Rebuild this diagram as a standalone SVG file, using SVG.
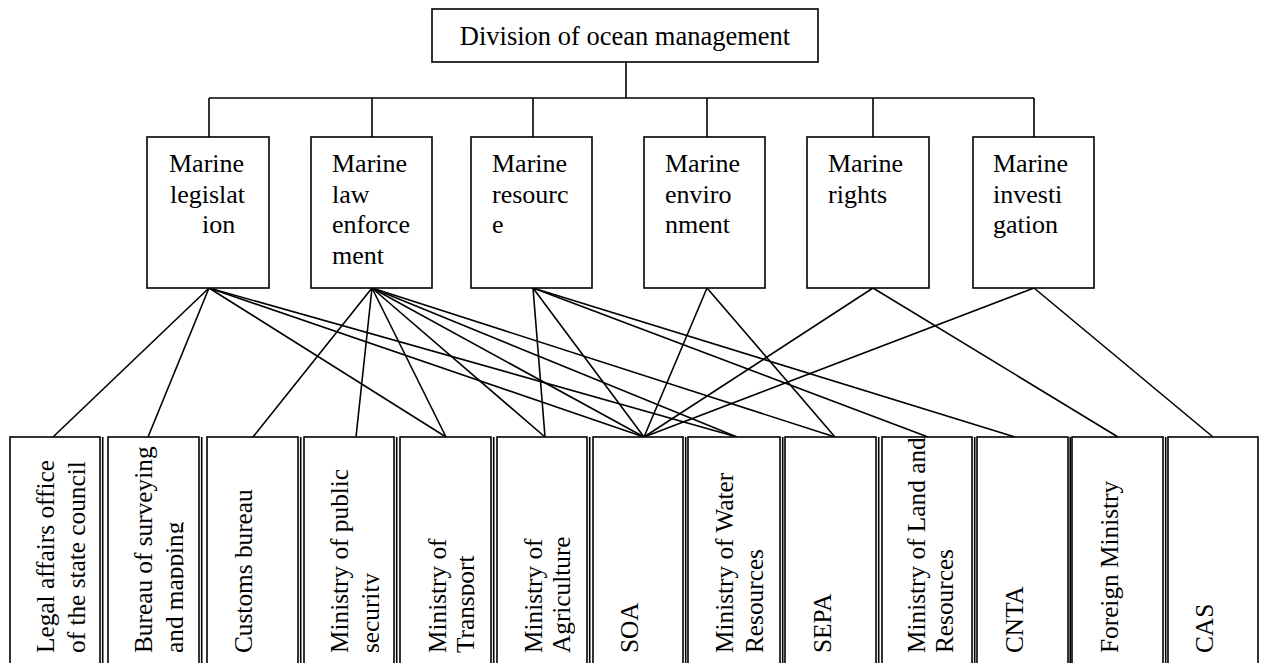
<svg xmlns="http://www.w3.org/2000/svg" width="1264" height="663" viewBox="0 0 1264 663">
<style>
  .box { fill: #fff; stroke: #000; stroke-width: 1.6; }
  .ln { stroke: #000; stroke-width: 1.6; fill: none; }
  .t { font-family: "Liberation Serif", "Times New Roman", serif; font-size: 26px; fill: #000; }
  .tb { font-family: "Liberation Serif", "Times New Roman", serif; font-size: 25.3px; fill: #000; }
</style>
<rect width="1264" height="663" fill="#fff"/>

<g id="connectors" class="ln">
  <line x1="626" y1="62" x2="626" y2="98"/>
  <line x1="209" y1="98" x2="1034" y2="98"/>
  <line x1="209" y1="98" x2="209" y2="137"/>
  <line x1="372" y1="98" x2="372" y2="137"/>
  <line x1="533" y1="98" x2="533" y2="137"/>
  <line x1="707" y1="98" x2="707" y2="137"/>
  <line x1="873" y1="98" x2="873" y2="137"/>
  <line x1="1034" y1="98" x2="1034" y2="137"/>
  <!-- Marine legislation -->
  <line x1="209" y1="288" x2="53" y2="437"/>
  <line x1="209" y1="288" x2="148" y2="437"/>
  <line x1="209" y1="288" x2="446" y2="437"/>
  <line x1="209" y1="288" x2="644" y2="437"/>
  <line x1="209" y1="288" x2="737" y2="437"/>
  <!-- Marine law enforcement -->
  <line x1="372" y1="288" x2="253" y2="437"/>
  <line x1="372" y1="288" x2="356" y2="437"/>
  <line x1="372" y1="288" x2="446" y2="437"/>
  <line x1="372" y1="288" x2="545" y2="437"/>
  <line x1="372" y1="288" x2="644" y2="437"/>
  <line x1="372" y1="288" x2="737" y2="437"/>
  <line x1="372" y1="288" x2="835" y2="437"/>
  <!-- Marine resource -->
  <line x1="533" y1="288" x2="545" y2="437"/>
  <line x1="533" y1="288" x2="644" y2="437"/>
  <line x1="533" y1="288" x2="928" y2="437"/>
  <line x1="533" y1="288" x2="1015" y2="437"/>
  <!-- Marine environment -->
  <line x1="707" y1="288" x2="644" y2="437"/>
  <line x1="707" y1="288" x2="835" y2="437"/>
  <!-- Marine rights -->
  <line x1="873" y1="288" x2="644" y2="437"/>
  <line x1="873" y1="288" x2="1118" y2="437"/>
  <!-- Marine investigation -->
  <line x1="1034" y1="288" x2="644" y2="437"/>
  <line x1="1034" y1="288" x2="1213" y2="437"/>
</g>

<g id="n-division">
  <rect class="box" x="432" y="9" width="386" height="53"/>
  <text class="t" x="625" y="45" text-anchor="middle" style="font-size:26.5px">Division of ocean management</text>
</g>

<g id="n-legislation">
  <rect class="box" x="147" y="137" width="122" height="151"/>
  <text class="t"><tspan x="169" y="172">Marine</tspan><tspan x="170" y="202.5">legislat</tspan><tspan x="202" y="233">ion</tspan></text>
</g>
<g id="n-law">
  <rect class="box" x="311" y="137" width="121" height="151"/>
  <text class="t"><tspan x="332" y="172">Marine</tspan><tspan x="332" y="202.5">law</tspan><tspan x="332" y="233">enforce</tspan><tspan x="332" y="263.5">ment</tspan></text>
</g>
<g id="n-resource">
  <rect class="box" x="471" y="137" width="121" height="151"/>
  <text class="t"><tspan x="492" y="172">Marine</tspan><tspan x="492" y="202.5">resourc</tspan><tspan x="492" y="233">e</tspan></text>
</g>
<g id="n-environment">
  <rect class="box" x="644" y="137" width="121" height="151"/>
  <text class="t"><tspan x="665" y="172">Marine</tspan><tspan x="665" y="202.5">enviro</tspan><tspan x="665" y="233">nment</tspan></text>
</g>
<g id="n-rights">
  <rect class="box" x="807" y="137" width="122" height="151"/>
  <text class="t"><tspan x="828" y="172">Marine</tspan><tspan x="828" y="202.5">rights</tspan></text>
</g>
<g id="n-investigation">
  <rect class="box" x="973" y="137" width="121" height="151"/>
  <text class="t"><tspan x="993" y="172">Marine</tspan><tspan x="993" y="202.5">investi</tspan><tspan x="993" y="233">gation</tspan></text>
</g>

<g id="b-legal">
  <rect class="box" x="10" y="437" width="90" height="240"/>
  <line class="ln" x1="102.7" y1="437" x2="102.7" y2="663"/>
  <svg x="10" y="437" width="76" height="226"><text class="tb" transform="translate(44,216) rotate(-90)"><tspan x="0" y="0">Legal affairs office</tspan><tspan x="0" y="31">of the state council</tspan></text></svg>
</g>
<g id="b-bureau">
  <rect class="box" x="108" y="437" width="91" height="240"/>
  <line class="ln" x1="201.7" y1="437" x2="201.7" y2="663"/>
  <svg x="108" y="437" width="75.5" height="226"><text class="tb" transform="translate(44,216) rotate(-90)"><tspan x="0" y="0">Bureau of surveying</tspan><tspan x="0" y="31">and mapping</tspan></text></svg>
</g>
<g id="b-customs">
  <rect class="box" x="207" y="437" width="91" height="240"/>
  <line class="ln" x1="300.7" y1="437" x2="300.7" y2="663"/>
  <svg x="207" y="437" width="76" height="226"><text class="tb" transform="translate(45,216) rotate(-90)">Customs bureau</text></svg>
</g>
<g id="b-public">
  <rect class="box" x="304" y="437" width="90" height="240"/>
  <line class="ln" x1="396.7" y1="437" x2="396.7" y2="663"/>
  <svg x="304" y="437" width="75.5" height="226"><text class="tb" transform="translate(44,216) rotate(-90)"><tspan x="0" y="0">Ministry of public</tspan><tspan x="0" y="31">security</tspan></text></svg>
</g>
<g id="b-transport">
  <rect class="box" x="400" y="437" width="91" height="240"/>
  <line class="ln" x1="493.7" y1="437" x2="493.7" y2="663"/>
  <svg x="400" y="437" width="74.5" height="226"><text class="tb" transform="translate(46,216) rotate(-90)"><tspan x="0" y="0">Ministry of</tspan><tspan x="0" y="28">Transport</tspan></text></svg>
</g>
<g id="b-agriculture">
  <rect class="box" x="497" y="437" width="90" height="240"/>
  <line class="ln" x1="589.7" y1="437" x2="589.7" y2="663"/>
  <svg x="497" y="437" width="78" height="226"><text class="tb" transform="translate(45,216) rotate(-90)"><tspan x="0" y="0">Ministry of</tspan><tspan x="0" y="28">Agriculture</tspan></text></svg>
</g>
<g id="b-soa">
  <rect class="box" x="593" y="437" width="90" height="240"/>
  <line class="ln" x1="685.7" y1="437" x2="685.7" y2="663"/>
  <svg x="593" y="437" width="78" height="226"><text class="tb" transform="translate(45,216) rotate(-90)">SOA</text></svg>
</g>
<g id="b-water">
  <rect class="box" x="688" y="437" width="92" height="240"/>
  <line class="ln" x1="782.7" y1="437" x2="782.7" y2="663"/>
  <svg x="688" y="437" width="78" height="226"><text class="tb" transform="translate(45,216) rotate(-90)"><tspan x="0" y="0">Ministry of Water</tspan><tspan x="0" y="30">Resources</tspan></text></svg>
</g>
<g id="b-sepa">
  <rect class="box" x="785" y="437" width="91" height="240"/>
  <line class="ln" x1="878.7" y1="437" x2="878.7" y2="663"/>
  <svg x="785" y="437" width="78" height="226"><text class="tb" transform="translate(46,216) rotate(-90)">SEPA</text></svg>
</g>
<g id="b-land">
  <rect class="box" x="882" y="437" width="90" height="240"/>
  <line class="ln" x1="974.7" y1="437" x2="974.7" y2="663"/>
  <svg x="882" y="437" width="78" height="226"><text class="tb" transform="translate(43,216) rotate(-90)"><tspan x="0" y="0">Ministry of Land and</tspan><tspan x="0" y="28">Resources</tspan></text></svg>
</g>
<g id="b-cnta">
  <rect class="box" x="977" y="437" width="91" height="240"/>
  <line class="ln" x1="1070.2" y1="437" x2="1070.2" y2="663"/>
  <svg x="977" y="437" width="78" height="226"><text class="tb" transform="translate(46,216) rotate(-90)">CNTA</text></svg>
</g>
<g id="b-foreign">
  <rect class="box" x="1072" y="437" width="91" height="240"/>
  <line class="ln" x1="1165.7" y1="437" x2="1165.7" y2="663"/>
  <svg x="1072" y="437" width="78" height="226"><text class="tb" transform="translate(46,216) rotate(-90)">Foreign Ministry</text></svg>
</g>
<g id="b-cas">
  <rect class="box" x="1168" y="437" width="90" height="240"/>
  <svg x="1168" y="437" width="78" height="226"><text class="tb" transform="translate(45,216) rotate(-90)">CAS</text></svg>
</g>
</svg>
